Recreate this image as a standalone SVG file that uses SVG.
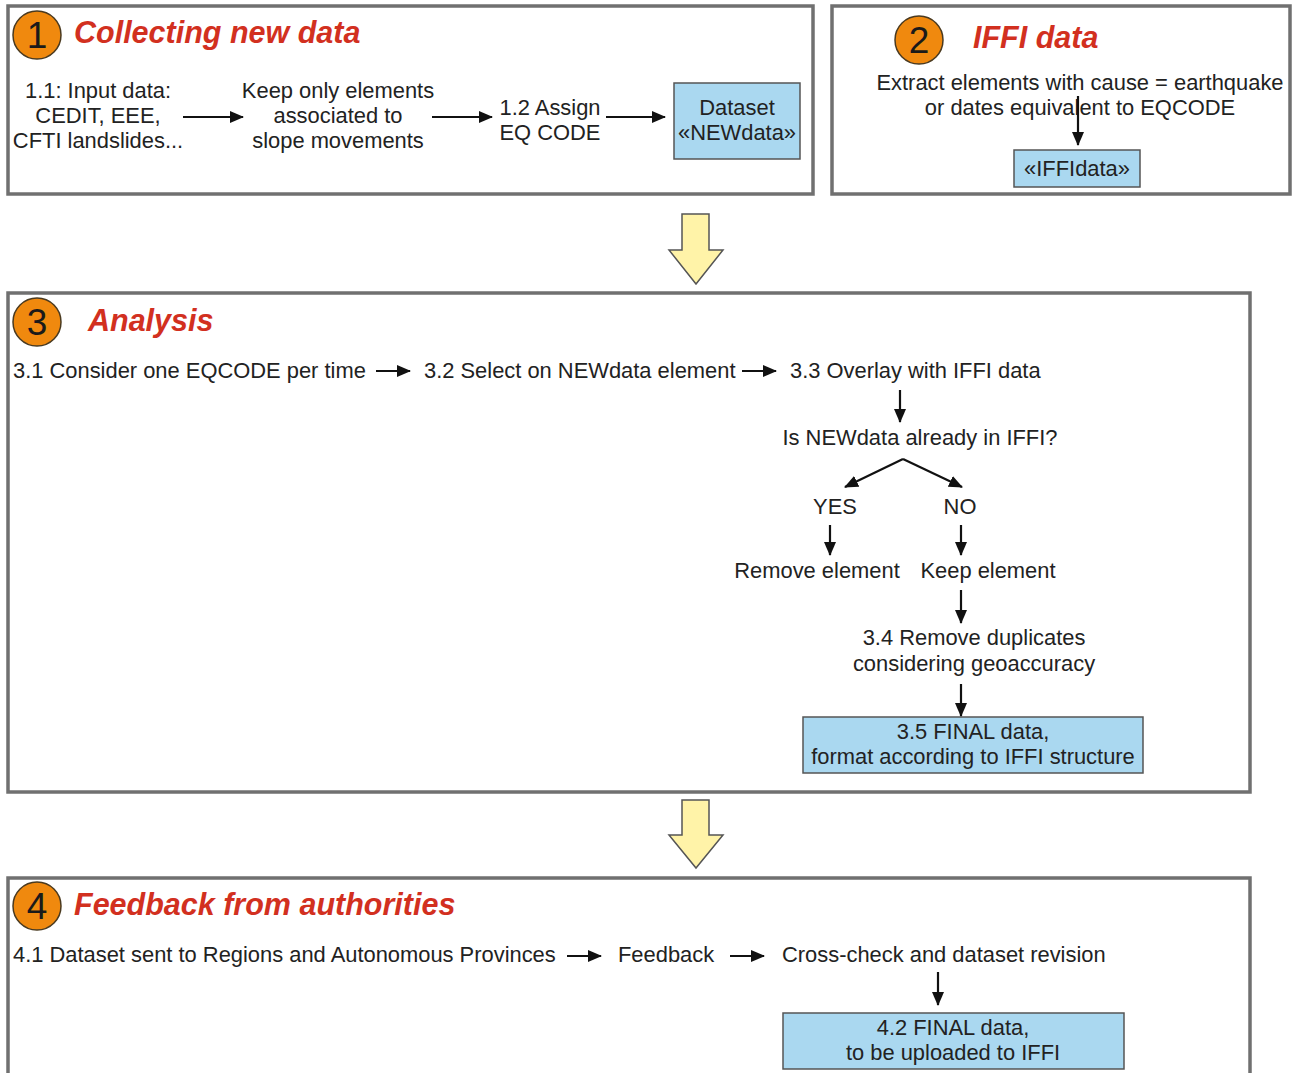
<svg xmlns="http://www.w3.org/2000/svg" width="1292" height="1073" viewBox="0 0 1292 1073">
<style>
.panel{fill:#fff;stroke:#707070;stroke-width:3.5}
.num{fill:#f0890e;stroke:#4a3a20;stroke-width:1.5}
.numt{font-family:"Liberation Sans",Arial,sans-serif;font-size:37px;fill:#1a1a1a;text-anchor:middle}
.title{font-family:"Liberation Sans",Arial,sans-serif;font-size:30.5px;font-weight:bold;font-style:italic;fill:#d2301f}
.t{font-family:"Liberation Sans",Arial,sans-serif;font-size:21.9px;fill:#222}
.c{text-anchor:middle}
.box{fill:#aad8f0;stroke:#555;stroke-width:1.5}
.ln{stroke:#111;stroke-width:2.2;fill:none}
.big{fill:#fff3a8;stroke:#555;stroke-width:1.5}
</style>
<defs>
<marker id="ah" viewBox="0 0 14 12" refX="13" refY="6" markerWidth="14" markerHeight="12" markerUnits="userSpaceOnUse" orient="auto">
<path d="M0,0 L14,6 L0,12 Z" fill="#111"/>
</marker>
</defs>
<rect width="1292" height="1073" fill="#fff"/>

<g id="panel1">
<rect class="panel" x="8" y="6" width="805" height="188"/>
<circle class="num" cx="37" cy="35" r="24"/>
<text class="numt" x="37" y="48">1</text>
<text class="title" x="74" y="43">Collecting new data</text>
</g>
<g id="n11">
<text class="t c" x="98" y="98">1.1: Input data:</text>
<text class="t c" x="98" y="123">CEDIT, EEE,</text>
<text class="t c" x="98" y="148">CFTI landslides...</text>
</g>
<g id="nkeep">
<text class="t c" x="338" y="98">Keep only elements</text>
<text class="t c" x="338" y="123">associated to</text>
<text class="t c" x="338" y="148">slope movements</text>
</g>
<g id="n12">
<text class="t c" x="550" y="115">1.2 Assign</text>
<text class="t c" x="550" y="140">EQ CODE</text>
</g>
<g id="nnewdata">
<rect class="box" x="674" y="83" width="126" height="76"/>
<text class="t c" x="737" y="115">Dataset</text>
<text class="t c" x="737" y="140">«NEWdata»</text>
</g>

<g id="panel2">
<rect class="panel" x="832" y="6" width="458" height="188"/>
<circle class="num" cx="919" cy="40" r="24"/>
<text class="numt" x="919" y="53">2</text>
<text class="title" x="973" y="48">IFFI data</text>
</g>
<g id="nextract">
<text class="t c" x="1080" y="90">Extract elements with cause = earthquake</text>
<text class="t c" x="1080" y="115">or dates equivalent to EQCODE</text>
</g>
<g id="niffidata">
<rect class="box" x="1014" y="150" width="126" height="37"/>
<text class="t c" x="1077" y="176">«IFFIdata»</text>
</g>

<g id="bigarrow1">
<path class="big" d="M682,214 H709 V250 H723 L696,284 L669,250 H682 Z"/>
</g>

<g id="panel3">
<rect class="panel" x="8" y="293" width="1242" height="499"/>
<circle class="num" cx="37" cy="322" r="24"/>
<text class="numt" x="37" y="335">3</text>
<text class="title" x="88" y="331">Analysis</text>
</g>
<g id="n31"><text class="t" x="13" y="378">3.1 Consider one EQCODE per time</text></g>
<g id="n32"><text class="t" x="424" y="378">3.2 Select on NEWdata element</text></g>
<g id="n33"><text class="t" x="790" y="378">3.3 Overlay with IFFI data</text></g>
<g id="nq"><text class="t c" x="920" y="445">Is NEWdata already in IFFI?</text></g>
<g id="nyes"><text class="t c" x="835" y="514">YES</text></g>
<g id="nno"><text class="t c" x="960" y="514">NO</text></g>
<g id="nremove"><text class="t c" x="817" y="578">Remove element</text></g>
<g id="nkeepel"><text class="t c" x="988" y="578">Keep element</text></g>
<g id="n34">
<text class="t c" x="974" y="645">3.4 Remove duplicates</text>
<text class="t c" x="974" y="671">considering geoaccuracy</text>
</g>
<g id="n35">
<rect class="box" x="803" y="717" width="340" height="56"/>
<text class="t c" x="973" y="739">3.5 FINAL data,</text>
<text class="t c" x="973" y="764">format according to IFFI structure</text>
</g>

<g id="bigarrow2">
<path class="big" d="M682,800 H709 V835 H723 L696,868 L669,835 H682 Z"/>
</g>

<g id="panel4">
<rect class="panel" x="8" y="878" width="1242" height="210"/>
<circle class="num" cx="37" cy="906" r="24"/>
<text class="numt" x="37" y="919">4</text>
<text class="title" x="74" y="915">Feedback from authorities</text>
</g>
<g id="n41"><text class="t" x="13" y="962">4.1 Dataset sent to Regions and Autonomous Provinces</text></g>
<g id="nfeedback"><text class="t" x="618" y="962">Feedback</text></g>
<g id="ncross"><text class="t" x="782" y="962">Cross-check and dataset revision</text></g>
<g id="n42">
<rect class="box" x="783" y="1013" width="341" height="56"/>
<text class="t c" x="953" y="1035">4.2 FINAL data,</text>
<text class="t c" x="953" y="1060">to be uploaded to IFFI</text>
</g>

<g id="connectors">
<line class="ln" x1="183" y1="117" x2="243" y2="117" marker-end="url(#ah)"/>
<line class="ln" x1="432" y1="117" x2="492" y2="117" marker-end="url(#ah)"/>
<line class="ln" x1="606" y1="117" x2="665" y2="117" marker-end="url(#ah)"/>
<line class="ln" x1="1078" y1="96" x2="1078" y2="145" marker-end="url(#ah)"/>
<line class="ln" x1="376" y1="371" x2="410" y2="371" marker-end="url(#ah)"/>
<line class="ln" x1="742" y1="371" x2="776" y2="371" marker-end="url(#ah)"/>
<line class="ln" x1="900" y1="390" x2="900" y2="422" marker-end="url(#ah)"/>
<line class="ln" x1="903" y1="459" x2="845" y2="487" marker-end="url(#ah)"/>
<line class="ln" x1="903" y1="459" x2="962" y2="487" marker-end="url(#ah)"/>
<line class="ln" x1="830" y1="525" x2="830" y2="555" marker-end="url(#ah)"/>
<line class="ln" x1="961" y1="525" x2="961" y2="555" marker-end="url(#ah)"/>
<line class="ln" x1="961" y1="590" x2="961" y2="623" marker-end="url(#ah)"/>
<line class="ln" x1="961" y1="684" x2="961" y2="716" marker-end="url(#ah)"/>
<line class="ln" x1="567" y1="956" x2="601" y2="956" marker-end="url(#ah)"/>
<line class="ln" x1="730" y1="956" x2="764" y2="956" marker-end="url(#ah)"/>
<line class="ln" x1="938" y1="972" x2="938" y2="1005" marker-end="url(#ah)"/>
</g>
</svg>
